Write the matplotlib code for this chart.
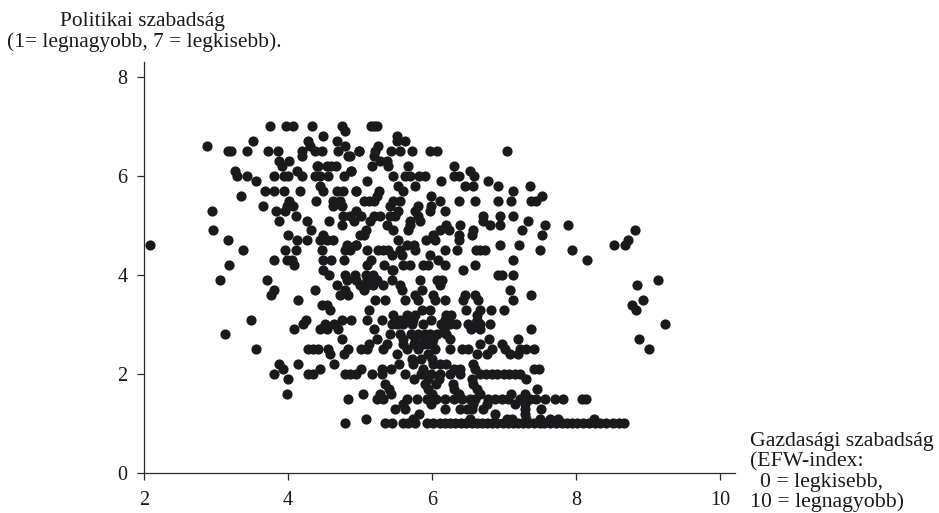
import matplotlib
matplotlib.use("Agg")
import matplotlib.pyplot as plt

# x values (EFW index) grouped by political freedom score
lvl_70 = [3.75, 3.97, 4.07, 4.33, 4.75, 5.15, 5.19, 5.24]
lvl_69 = [4.79]
lvl_68 = [4.48, 5.52]
lvl_67 = [3.52, 4.28, 4.68, 5.52, 5.63]
lvl_66 = [2.88, 4.31, 4.79, 5.25]
lvl_65 = [3.17, 3.21, 3.43, 3.72, 3.86, 4.2, 4.38, 4.47, 4.7, 4.98, 4.99, 5.21, 5.43, 5.55,
          5.72, 5.97, 6.07, 7.04]
lvl_64 = [4.2, 4.84, 4.86, 5.2]
lvl_63 = [3.87, 4.02, 5.28, 5.37]
lvl_62 = [3.91, 4.4, 4.41, 4.54, 4.6, 4.67, 5.16, 5.39, 5.66, 6.31]
lvl_61 = [3.26, 4.12, 4.87, 4.88, 6.53]
lvl_60 = [3.29, 3.43, 3.8, 3.94, 4.0, 4.19, 4.38, 4.45, 4.56, 4.78, 5.46, 5.63, 5.69, 5.82,
          5.9, 6.3, 6.37, 6.58]
lvl_59 = [3.55, 5.1, 6.12, 6.78]
lvl_58 = [4.45, 5.53, 5.77, 6.46, 6.57, 6.91, 7.36]
lvl_57 = [3.68, 3.8, 3.94, 4.17, 4.48, 4.68, 4.77, 4.95, 4.94, 5.26, 5.6, 7.12]
lvl_56 = [3.35, 5.23, 5.99, 7.53]
lvl_55 = [4.02, 4.39, 4.63, 4.72, 5.05, 5.12, 5.2, 5.46, 5.55, 6.11, 6.38, 6.6, 6.91, 7.1,
          7.38, 7.45]
lvl_54 = [3.65, 3.98, 4.07, 4.63, 4.75, 5.42, 5.8, 5.99]
lvl_53 = [2.95, 3.83, 3.96, 4.95, 5.53, 5.76, 5.97, 6.18]
lvl_52 = [4.11, 4.77, 4.86, 5.02, 5.28, 5.2, 5.42, 5.48, 5.81, 6.71, 6.94, 7.12]
lvl_51 = [3.88, 4.27, 4.57, 4.92, 5.14, 5.69, 5.83, 6.71, 7.34]
lvl_50 = [4.75, 5.37, 5.69, 6.2, 6.39, 6.8, 6.94, 7.57, 7.89]
lvl_49 = [2.96, 4.32, 5.09, 5.46, 5.66, 6.11, 6.24, 6.57, 7.25, 8.82]
lvl_48 = [4.0, 4.49, 5.0, 5.05, 6.02, 6.37, 6.56, 7.53]
lvl_47 = [3.16, 4.12, 4.26, 4.44, 4.54, 4.63, 5.53, 5.92, 6.04, 6.37, 8.72]
lvl_46 = [2.09, 4.82, 4.95, 4.94, 5.65, 5.75, 6.95, 7.21, 8.53, 8.68]
lvl_45 = [3.38, 3.96, 4.11, 4.47, 4.79, 4.86, 5.1, 5.25, 5.32, 5.39, 5.55, 5.76, 6.18, 6.35,
          6.61, 6.67, 6.74, 7.5, 7.94]
lvl_44 = [5.44, 5.58, 5.97]
lvl_43 = [3.81, 3.98, 4.05, 4.49, 4.6, 4.78, 5.15, 6.09, 7.13, 8.15]
lvl_42 = [3.18, 4.08, 5.1, 5.33, 5.6, 5.69, 5.88, 5.95, 6.18, 6.6]
lvl_41 = [4.49, 5.45, 5.46, 6.43]
lvl_40 = [4.57, 4.79, 4.93, 5.09, 5.18, 6.92, 6.97, 7.12]
lvl_39 = [3.05, 3.71, 4.82, 4.95, 5.1, 5.23, 5.45, 5.83, 6.07, 6.14, 9.14]
lvl_38 = [4.68, 5.0, 5.02, 5.1, 5.18, 5.32, 5.55, 6.11, 8.85]
lvl_37 = [3.81, 4.37, 4.79, 5.05, 5.59, 5.86, 7.08]
lvl_36 = [3.76, 4.72, 4.84, 5.76, 6.02, 6.46, 6.6, 7.38]
lvl_35 = [4.14, 5.21, 5.35, 5.62, 5.81, 6.04, 6.18, 6.43, 6.64, 7.13, 8.93]
lvl_34 = [4.47, 4.54, 8.78]
lvl_33 = [4.58, 5.13, 5.86, 5.97, 6.47, 6.66, 6.82, 7.0, 8.83]
lvl_32 = [5.46, 5.65, 5.76, 6.2, 6.27, 6.63]
lvl_31 = [3.49, 4.25, 4.75, 4.88, 5.1, 5.3, 5.48, 5.55, 5.65, 5.74, 5.99, 6.18, 6.63]
lvl_30 = [4.21, 4.51, 4.64, 5.45, 5.52, 5.6, 5.72, 5.88, 6.13, 6.25, 6.34, 6.5, 6.6, 6.67, 6.81, 9.24]
lvl_29 = [4.08, 4.45, 4.54, 4.69, 5.19, 6.16, 6.54, 6.66, 7.38]
lvl_28 = [3.12, 5.42, 5.55, 5.71, 5.8, 5.9, 5.97, 6.07, 6.2]
lvl_27 = [4.75, 5.23, 5.6, 5.76, 5.9, 6.02, 6.25, 6.79, 7.2, 8.87]
lvl_26 = [5.12, 5.37, 5.6, 5.75, 5.88, 5.93, 6.0, 6.67, 6.97]
lvl_25 = [3.55, 4.28, 4.35, 4.42, 4.55, 4.84, 5.02, 5.1, 5.32, 5.65, 5.81, 6.04, 6.25, 6.41,
          6.5, 6.83, 7.01, 7.22, 7.31, 7.41, 9.02]
lvl_24 = [4.58, 4.78, 5.51, 5.95, 6.62, 6.77, 7.08, 7.2]
lvl_23 = [5.72, 5.85, 6.0]
lvl_22 = [3.87, 4.14, 4.64, 5.54, 5.74, 6.02, 6.11, 6.2, 6.57]
lvl_21 = [3.93, 4.44, 5.02, 5.31, 5.43, 5.88, 6.3, 6.39, 6.6, 7.41, 7.48]
lvl_20 = [3.8, 4.28, 4.35, 4.79, 4.86, 4.95, 5.16, 5.3, 5.62, 5.85, 5.99, 6.11, 6.25, 6.39,
          6.67, 6.75, 6.83, 6.9, 7.0, 7.07, 7.15, 7.22]
lvl_19 = [4.0, 5.75, 5.95, 6.1, 6.55, 7.31]
lvl_18 = [5.35, 5.9, 6.05, 6.29, 6.57]
lvl_17 = [5.4, 5.95, 6.3, 6.62, 7.46]
lvl_16 = [3.98, 5.04, 5.28, 5.43, 6.0, 6.37, 6.66, 7.1, 7.29]
lvl_15 = [4.84, 5.23, 5.32, 5.65, 5.79, 5.93, 5.97, 6.06, 6.18, 6.3, 6.41, 6.53, 6.6, 6.78,
          6.88, 6.97, 7.06, 7.22, 7.36, 7.45, 7.57, 7.71, 7.82, 8.08, 8.14]
lvl_14 = [5.6, 5.99, 6.57, 6.76, 7.15, 7.29]
lvl_13 = [5.49, 5.62, 6.18, 6.39, 6.48, 6.55, 6.71, 7.29, 7.51]
lvl_12 = [5.82, 6.87, 7.29]
lvl_11 = [5.08, 5.74, 6.53, 7.04, 7.11, 7.31, 7.5, 7.64, 7.75, 8.25]
lvl_10 = [4.79, 5.35, 5.44, 5.6, 5.67, 5.76, 5.93, 6.02, 6.11, 6.18, 6.25, 6.32, 6.4, 6.47,
          6.55, 6.62, 6.7, 6.76, 6.84, 6.9, 6.98, 7.05, 7.12, 7.2, 7.27, 7.34, 7.42, 7.5,
          7.56, 7.64, 7.72, 7.8, 7.87, 7.95, 8.02, 8.1, 8.18, 8.26, 8.34, 8.42, 8.52, 8.6, 8.67]

score_levels = [7.0, 6.9, 6.8, 6.7, 6.6, 6.5, 6.4, 6.3, 6.2, 6.1, 6.0, 5.9, 5.8, 5.7, 5.6, 5.5,
                5.4, 5.3, 5.2, 5.1, 5.0, 4.9, 4.8, 4.7, 4.6, 4.5, 4.4, 4.3, 4.2, 4.1, 4.0, 3.9,
                3.8, 3.7, 3.6, 3.5, 3.4, 3.3, 3.2, 3.1, 3.0, 2.9, 2.8, 2.7, 2.6, 2.5, 2.4, 2.3,
                2.2, 2.1, 2.0, 1.9, 1.8, 1.7, 1.6, 1.5, 1.4, 1.3, 1.2, 1.1, 1.0]
efw_rows = [lvl_70, lvl_69, lvl_68, lvl_67, lvl_66, lvl_65, lvl_64, lvl_63, lvl_62, lvl_61, lvl_60,
            lvl_59, lvl_58, lvl_57, lvl_56, lvl_55, lvl_54, lvl_53, lvl_52, lvl_51, lvl_50, lvl_49,
            lvl_48, lvl_47, lvl_46, lvl_45, lvl_44, lvl_43, lvl_42, lvl_41, lvl_40, lvl_39, lvl_38,
            lvl_37, lvl_36, lvl_35, lvl_34, lvl_33, lvl_32, lvl_31, lvl_30, lvl_29, lvl_28, lvl_27,
            lvl_26, lvl_25, lvl_24, lvl_23, lvl_22, lvl_21, lvl_20, lvl_19, lvl_18, lvl_17, lvl_16,
            lvl_15, lvl_14, lvl_13, lvl_12, lvl_11, lvl_10]

x_ticks = [2, 4, 6, 8, 10]
y_ticks = [0, 2, 4, 6, 8]

W, H = 939, 513
plt.rcParams['font.family'] = ['Liberation Serif', 'DejaVu Sans']
fig = plt.figure(figsize=(W / 100, H / 100), dpi=100)
ax = fig.add_axes([144 / W, (H - 473) / H, (735 - 144) / W, (473 - 62) / H])

xs, ys = [], []
for score, row in zip(score_levels, efw_rows):
    xs += row
    ys += [score] * len(row)
ax.scatter(xs, ys, s=54, color='#1a1a1c', linewidths=0, clip_on=False, zorder=3)

ax.set_xlim(2, 10.208)
ax.set_ylim(0, 8.303)
ax.set_xticks(x_ticks)
ax.set_yticks(y_ticks)
ax.spines['top'].set_visible(False)
ax.spines['right'].set_visible(False)
for s in ['left', 'bottom']:
    ax.spines[s].set_linewidth(0.9)
    ax.spines[s].set_color('#2a2a2c')
ax.tick_params(axis='x', length=5, width=0.9, pad=8, labelsize=14.5, color='#2a2a2c', labelcolor='#1a1a1c')
ax.tick_params(axis='y', length=5, width=0.9, pad=7, labelsize=14.5, color='#2a2a2c', labelcolor='#1a1a1c')


def px_text(x, y, s, size=15.4):
    fig.text(x / W, 1 - y / H, s, fontsize=size, color='#1a1a1c', ha='left', va='baseline')


px_text(60, 26, 'Politikai szabadság')
px_text(7, 47, '(1= legnagyobb, 7 = legkisebb).')
px_text(750, 446, 'Gazdasági szabadság', 15.7)
px_text(750, 466, '(EFW-index:', 15.7)
px_text(760, 487, '0 = legkisebb,', 15.7)
px_text(750, 507, '10 = legnagyobb)', 15.7)

fig.savefig('out.png', dpi=100)
